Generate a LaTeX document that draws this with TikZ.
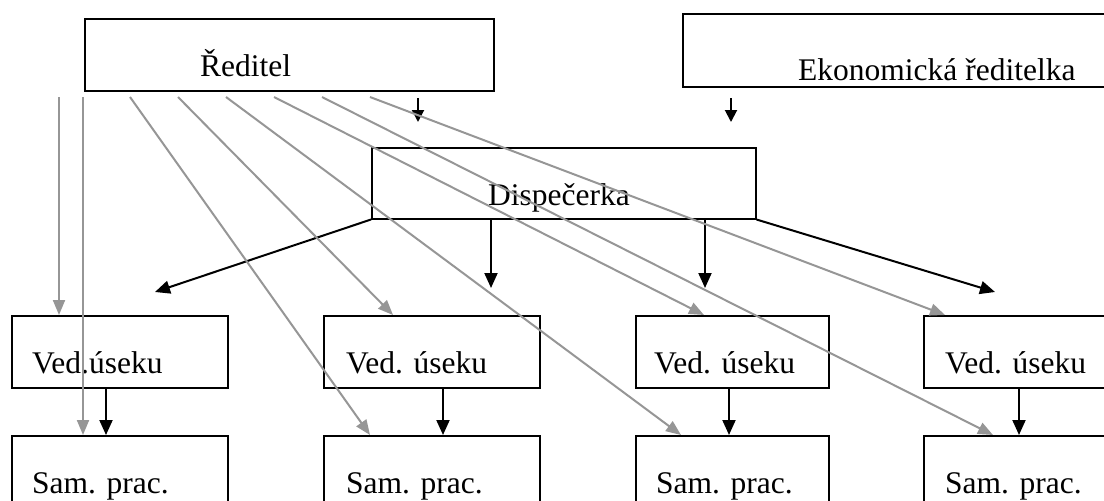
\documentclass[tikz,border=0pt]{standalone}
\usepackage{fontspec}
\setmainfont{Liberation Serif}
\usetikzlibrary{arrows.meta}
\definecolor{lgray}{RGB}{150,150,150}
\begin{document}
\begin{tikzpicture}[x=1pt,y=-1pt,
  box/.style={draw=black,line width=1.5pt,inner sep=0pt,anchor=north west,minimum height=72pt},
  lbl/.style={inner sep=0pt,anchor=base west,font=\fontsize{31.5}{36}\selectfont},
  blk/.style={draw=black,line width=2pt,-{Triangle[length=15pt,width=13pt]}},
  sblk/.style={draw=black,line width=2pt,-{Triangle[length=12pt,width=12pt]}},
  gry/.style={draw=lgray,line width=2pt,-{Triangle[length=15pt,width=12pt]}}]
\useasboundingbox (0,0) rectangle (1104,501);
% boxes
\node[box,minimum width=409pt] (red) at (84,18) {};
\node[box,minimum width=440pt,minimum height=73pt] (eko) at (682,13) {};
\node[box,minimum width=384pt,minimum height=71pt] (disp) at (371,147) {};
\node[box,minimum width=216pt] (ved1) at (11,315) {};
\node[box,minimum width=216pt] (ved2) at (323,315) {};
\node[box,minimum width=193pt] (ved3) at (635,315) {};
\node[box,minimum width=200pt] (ved4) at (923,315) {};
\node[box,minimum width=216pt,minimum height=90pt] (sam1) at (11,435) {};
\node[box,minimum width=216pt,minimum height=90pt] (sam2) at (323,435) {};
\node[box,minimum width=193pt,minimum height=90pt] (sam3) at (635,435) {};
\node[box,minimum width=200pt,minimum height=90pt] (sam4) at (923,435) {};
% texts
\node[lbl] (tred) at (200,76) {Ředitel};
\node[lbl] (teko) at (798,80) {Ekonomická ředitelka};
\node[lbl] (tdisp) at (488,205) {Dispečerka};
\node[lbl] (tv1) at (32,373) {Ved.úseku};
\node[lbl] (tv2) at (346,373) {Ved. úseku};
\node[lbl] (tv3) at (654,373) {Ved. úseku};
\node[lbl] (tv4) at (945,373) {Ved. úseku};
\node[lbl] (ts1) at (32,493) {Sam. prac.};
\node[lbl] (ts2) at (346,493) {Sam. prac.};
\node[lbl] (ts3) at (656,493) {Sam. prac.};
\node[lbl] (ts4) at (945,493) {Sam. prac.};
% free coordinates
\coordinate (r1) at (418,98); \coordinate (r2) at (418,122);
\coordinate (e1) at (731,98); \coordinate (e2) at (731,122);
\coordinate (dl) at (155,292); \coordinate (dr) at (995,292);
\coordinate (d1) at (491,288); \coordinate (d2) at (705,288);
\coordinate (s1) at (59,97); \coordinate (s2) at (83,97);
\coordinate (s3) at (130,97); \coordinate (s4) at (178,97);
\coordinate (s5) at (226,97); \coordinate (s6) at (274,97);
\coordinate (s7) at (322,97); \coordinate (s8) at (370,97);
% black arrows
\draw[sblk] (r1) -- (r2);
\draw[sblk] (e1) -- (e2);
\draw[blk] (disp.south west) -- (dl);
\draw[blk] (disp.south east) -- (dr);
\draw[blk] (disp.south west -| d1) -- (d1);
\draw[blk] (disp.south west -| d2) -- (d2);
\draw[blk] ([xshift=95pt]ved1.south west) -- ([xshift=95pt]sam1.north west);
\draw[blk] ([xshift=120pt]ved2.south west) -- ([xshift=120pt]sam2.north west);
\draw[blk] ([xshift=94pt]ved3.south west) -- ([xshift=94pt]sam3.north west);
\draw[blk] ([xshift=96pt]ved4.south west) -- ([xshift=96pt]sam4.north west);
% gray arrows
\draw[gry] (s1) -- ([xshift=48pt]ved1.north west);
\draw[gry] (s2) -- ([xshift=72pt]sam1.north west);
\draw[gry] (s3) -- ([xshift=47pt]sam2.north west);
\draw[gry] (s4) -- ([xshift=70pt]ved2.north west);
\draw[gry] (s5) -- ([xshift=46pt]sam3.north west);
\draw[gry] (s6) -- ([xshift=69pt]ved3.north west);
\draw[gry] (s7) -- ([xshift=70pt]sam4.north west);
\draw[gry] (s8) -- ([xshift=22pt]ved4.north west);
\end{tikzpicture}
\end{document}
